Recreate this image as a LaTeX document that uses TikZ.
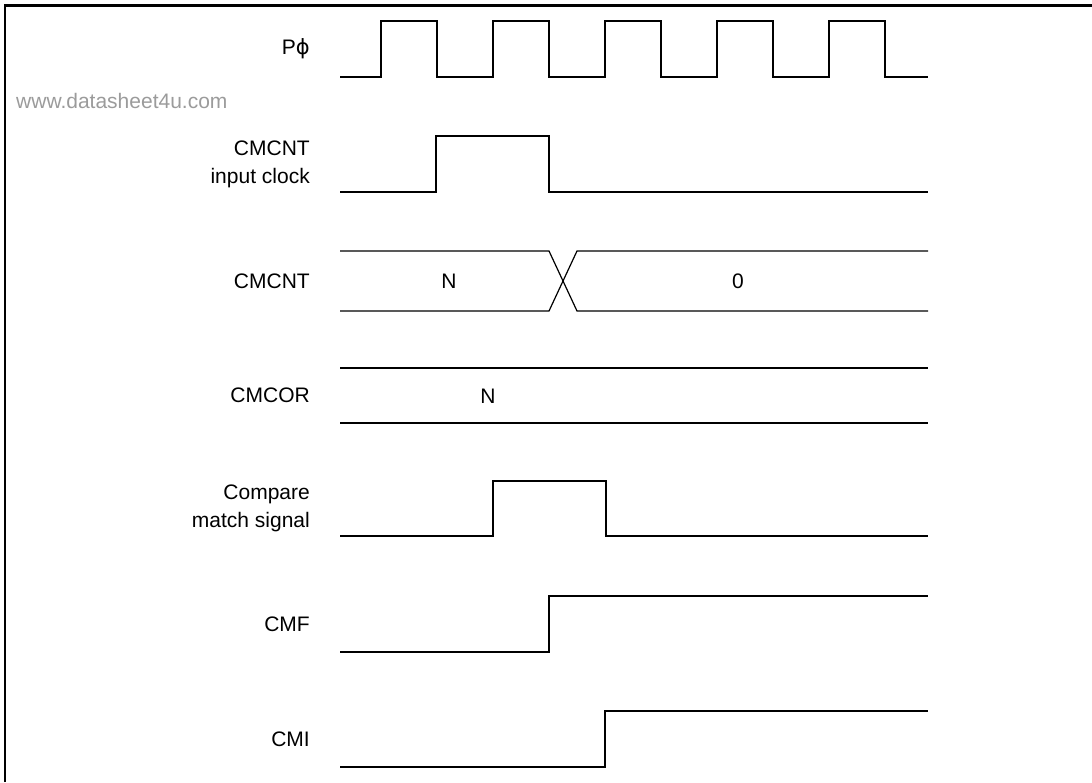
\documentclass[tikz,border=0pt]{standalone}
\usepackage{fontspec}
\setmainfont{Liberation Sans}
\newfontfamily\symfont{DejaVu Sans}
\usepackage{xcolor}
\usepackage{tikz}
\usetikzlibrary{positioning}
\definecolor{cwater}{RGB}{155,155,155}
\tikzset{
  wave/.style={line width=1.2pt, color=black, line join=miter},
  clk/.style={wave, line width=1.6pt},
  frm/.style={line width=2.6pt, color=black},
  lbl/.style={font=\fontsize{21}{28}\selectfont, align=right, anchor=east, inner sep=0pt},
  val/.style={font=\fontsize{21}{28}\selectfont, inner sep=0pt},
  wmark/.style={font=\fontsize{21}{28}\selectfont\color{cwater}, anchor=west, inner sep=0pt},
}

\begin{document}
\begin{tikzpicture}[x=1pt, y=-1pt]
  \useasboundingbox (0,0) rectangle (1092,782);

  % ── Frame ──────────────────────────────────────────────────────────────────
  \draw[frm] (5,782) -- (5,5.5) -- (1092,5.5);
  \node[wmark] (wm) at (16,101) {www.datasheet4u.com};

  % ── Signal names ───────────────────────────────────────────────────────────
  \node[lbl] (phi) at (310, 49) {P{\symfont ϕ}};
  \node[lbl] (cin) at (310,164) {CMCNT\\input clock};
  \node[lbl] (cnt) at (310,281) {CMCNT};
  \node[lbl] (cor) at (310,395) {CMCOR};
  \node[lbl] (cmp) at (310,508) {Compare\hspace{0.28em}\\match signal};
  \node[lbl] (cmf) at (310,624) {CMF};
  \node[lbl] (cmi) at (310,739) {CMI};

  % ── Waveforms ──────────────────────────────────────────────────────────────
  \draw[clk] (340,77) -- (381,77) -- (381,21) -- (437,21) -- (437,77)
             -- (493,77) -- (493,21) -- (549,21) -- (549,77)
             -- (605,77) -- (605,21) -- (661,21) -- (661,77)
             -- (717,77) -- (717,21) -- (773,21) -- (773,77)
             -- (829,77) -- (829,21) -- (885,21) -- (885,77) -- (928,77);
  \draw[wave] (340,192) -- (436,192) -- (436,136) -- (549,136)
              -- (549,192) -- (928,192);
  \draw[wave] (340,251) -- (549,251) -- (577,311) -- (928,311);
  \draw[wave] (340,311) -- (549,311) -- (577,251) -- (928,251);
  \draw[wave] (340,368) -- (928,368);
  \draw[wave] (340,423) -- (928,423);
  \draw[wave] (340,536) -- (493,536) -- (493,481) -- (606,481)
              -- (606,536) -- (928,536);
  \draw[wave] (340,652) -- (549,652) -- (549,596) -- (928,596);
  \draw[wave] (340,767) -- (605,767) -- (605,711) -- (928,711);

  % ── Register values ────────────────────────────────────────────────────────
  \node[val] (cntn)  at (449,281) {N};
  \node[val] (cnt0)  at (738,281) {0};
  \node[val] (corn)  at (488,396) {N};
\end{tikzpicture}
\end{document}
